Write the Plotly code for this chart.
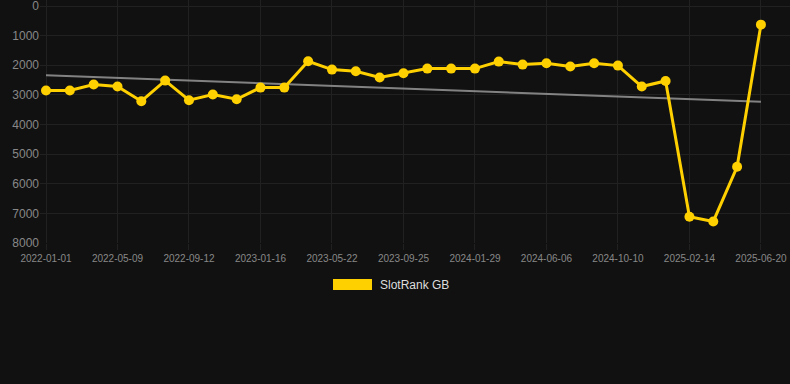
import numpy as np
import plotly.graph_objects as go

dates = [
    "2022-01-01", "2022-02-12", "2022-03-26", "2022-05-09", "2022-06-20", "2022-08-01",
    "2022-09-12", "2022-10-24", "2022-12-05", "2023-01-16", "2023-02-27", "2023-04-10",
    "2023-05-22", "2023-07-03", "2023-08-14", "2023-09-25", "2023-11-06", "2023-12-18",
    "2024-01-29", "2024-03-12", "2024-04-24", "2024-06-06", "2024-07-18", "2024-08-29",
    "2024-10-10", "2024-11-21", "2025-01-03", "2025-02-14", "2025-03-28", "2025-05-09",
    "2025-06-20",
]
rank_gb = [
    2850, 2850, 2652, 2720, 3214, 2518, 3180, 2990, 3147, 2754, 2754, 1866,
    2147, 2202, 2416, 2270, 2113, 2113, 2113, 1877, 1978, 1933, 2045, 1933,
    2012, 2720, 2529, 7114, 7272, 5428, 630,
]
tick_labels = [
    "2022-01-01", "2022-05-09", "2022-09-12", "2023-01-16", "2023-05-22", "2023-09-25",
    "2024-01-29", "2024-06-06", "2024-10-10", "2025-02-14", "2025-06-20",
]
y_ticks = [0, 1000, 2000, 3000, 4000, 5000, 6000, 7000, 8000]
series_name = "SlotRank GB"

idx = np.arange(len(rank_gb))
slope, intercept = np.polyfit(idx, rank_gb, 1)
trend = [intercept + slope * i for i in idx]

GOLD = "#FFD000"
GRID = "#212121"
fig = go.Figure()
fig.add_trace(go.Scatter(
    x=dates, y=trend, mode="lines",
    line=dict(color="rgba(150,150,150,0.85)", width=2),
    showlegend=False, hoverinfo="skip",
))
fig.add_trace(go.Scatter(
    x=dates, y=rank_gb, mode="lines+markers", name=series_name,
    line=dict(color=GOLD, width=3),
    marker=dict(color=GOLD, size=10),
    showlegend=False, cliponaxis=False,
))

n = len(dates)
fig.update_layout(
    width=790, height=384,
    paper_bgcolor="#111111", plot_bgcolor="#111111",
    margin=dict(l=40, r=0, t=0, b=141),
    font=dict(family="Liberation Sans, Arial, sans-serif", color="#888888"),
    xaxis=dict(
        type="category",
        range=[-0.252, n - 1 + 1.22],
        tickmode="array", tickvals=tick_labels, ticktext=tick_labels,
        showgrid=True, gridcolor=GRID, gridwidth=1,
        ticks="outside", ticklen=6, tickcolor=GRID,
        tickfont=dict(size=10, color="#888888"),
        zeroline=False, showline=False,
    ),
    yaxis=dict(
        range=[8000, (8000 * 6 / 243) * -1 / (1 - 6 / 243)],
        tickmode="array", tickvals=y_ticks,
        showgrid=True, gridcolor=GRID, gridwidth=1,
        tickfont=dict(size=12, color="#888888"),
        ticklabeloverflow="allow",
        zeroline=False, showline=False, ticks="",
    ),
    shapes=[dict(
        type="rect", xref="paper", yref="paper",
        x0=(333 - 40) / 750, x1=(372 - 40) / 750,
        y0=(243 - 290) / 243, y1=(243 - 279) / 243,
        fillcolor=GOLD, line=dict(width=0),
    )],
    annotations=[dict(
        text=series_name, xref="paper", yref="paper",
        x=(378 - 40) / 750, y=(243 - 284.5) / 243,
        xanchor="left", yanchor="middle", showarrow=False,
        font=dict(size=12, color="#dddddd"),
    )],
)

fig.write_html(
    "out.html",
    config={"displayModeBar": False},
    post_script="document.body.style.margin='0';document.body.style.background='#111111';",
)
